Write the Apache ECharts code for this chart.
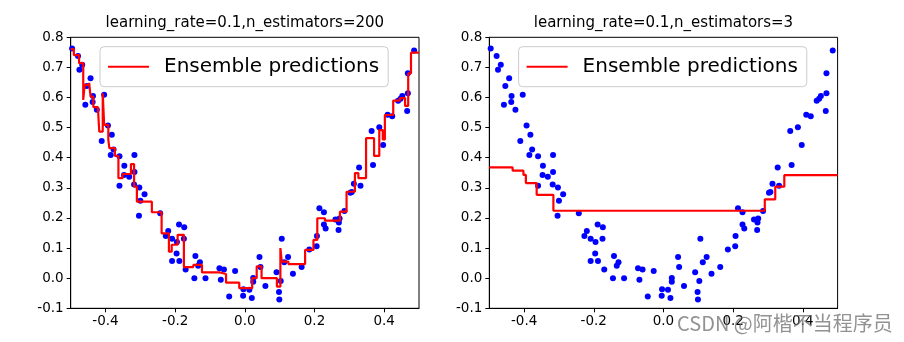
<!DOCTYPE html>
<html>
<head>
<meta charset="utf-8">
<script src="https://cdn.jsdelivr.net/npm/echarts@6/dist/echarts.min.js"></script>
<style>
html,body{margin:0;padding:0;background:#fff;}
#c{width:904px;height:342px;}
</style>
</head>
<body>
<div id="c"></div>
<script>
// ---- data ----
const titles = ['learning_rate=0.1,n_estimators=200', 'learning_rate=0.1,n_estimators=3'];
const legendName = 'Ensemble predictions';
const xTicks = [-0.4, -0.2, 0.0, 0.2, 0.4];

const xData = [-0.496,-0.479,-0.467,-0.475,-0.443,-0.454,-0.436,-0.404,-0.437,-0.458,
  -0.425,-0.393,-0.382,-0.411,-0.377,-0.385,-0.360,-0.317,-0.346,-0.317,
  -0.347,-0.332,-0.360,-0.318,-0.303,-0.288,-0.300,-0.304,-0.243,-0.220,
  -0.227,-0.189,-0.174,-0.209,-0.195,-0.175,-0.196,-0.209,-0.188,-0.170,
  -0.142,-0.129,-0.134,-0.145,-0.113,-0.073,-0.060,-0.069,-0.028,-0.045,
  -0.004,-0.005,0.013,0.020,0.024,0.024,0.042,0.045,0.059,0.091,
  0.103,0.098,0.099,0.106,0.113,0.124,0.138,0.163,0.185,0.206,
  0.207,0.214,0.227,0.227,0.232,0.260,0.272,0.270,0.269,0.286,
  0.303,0.307,0.313,0.332,0.328,0.368,0.364,0.386,0.397,0.410,
  0.423,0.440,0.447,0.452,0.468,0.466,0.468,0.486];
const yData = [0.763,0.738,0.709,0.692,0.664,0.638,0.605,0.609,0.585,0.576,
  0.559,0.507,0.476,0.456,0.427,0.409,0.405,0.409,0.373,0.353,
  0.343,0.337,0.307,0.311,0.301,0.279,0.257,0.207,0.216,0.157,
  0.140,0.178,0.169,0.131,0.120,0.131,0.082,0.057,0.057,0.029,
  0.074,0.053,0.041,0.000,0.000,0.033,0.029,-0.005,0.024,-0.061,
  -0.037,-0.058,-0.038,-0.066,0.001,-0.012,0.070,0.037,-0.026,0.020,
  -0.009,-0.046,-0.071,0.131,0.053,0.070,0.015,0.037,0.095,0.106,
  0.140,0.232,0.219,0.178,0.165,0.195,0.198,0.185,0.160,0.223,
  0.284,0.286,0.314,0.307,0.368,0.376,0.489,0.501,0.442,0.543,
  0.538,0.589,0.596,0.605,0.614,0.555,0.681,0.756];

// step functions: segment start x and value (held until next start; last held to xEnd)
const xEnd = 0.5;
const leftStepX = [-0.500,-0.491,-0.476,-0.464,-0.460,-0.447,-0.443,-0.435,-0.422,-0.418,
  -0.408,-0.404,-0.392,-0.389,-0.373,-0.363,-0.351,-0.327,-0.318,-0.310,
  -0.267,-0.239,-0.218,-0.210,-0.193,-0.175,-0.148,-0.123,-0.071,-0.054,
  -0.016,0.021,0.034,0.048,0.092,0.102,0.106,0.125,0.173,0.197,
  0.208,0.230,0.273,0.292,0.316,0.326,0.348,0.371,0.386,0.396,
  0.402,0.426,0.445,0.460,0.469,0.477];
const leftStepY = [0.761,0.741,0.714,0.592,0.642,0.649,0.603,0.568,0.562,0.487,
  0.614,0.509,0.459,0.432,0.406,0.332,0.346,0.379,0.304,0.254,
  0.219,0.149,0.088,0.111,0.144,0.037,0.044,0.019,0.014,-0.015,
  -0.033,0.000,0.039,0.000,-0.028,0.100,0.055,0.047,0.094,0.127,
  0.199,0.191,0.221,0.287,0.349,0.332,0.465,0.406,0.492,0.461,
  0.542,0.590,0.598,0.572,0.680,0.749];
const rightStepX = [-0.500,-0.433,-0.402,-0.395,-0.364,-0.316,0.291,0.321,0.347];
const rightStepY = [0.368,0.357,0.343,0.316,0.277,0.224,0.262,0.304,0.342];

// ---- build chart ----
const FONT = 'DejaVu Sans';
const points = xData.map((x, i) => [x, yData[i]]);
function stepData(xs, ys) {
  const d = xs.map((x, i) => [x, ys[i]]);
  d.push([xEnd, ys[ys.length - 1]]);
  return d;
}

const gridW = 348.3, gridH = 271, gridTop = 37.3;
const gridLefts = [70.7, 489.3];

function xAxis(i) {
  return {
    type: 'value', gridIndex: i, min: -0.5, max: 0.5,
    axisLine: { show: true, onZero: false, lineStyle: { color: '#000', width: 1 } },
    axisTick: { show: true, length: 4, customValues: xTicks, lineStyle: { color: '#000', width: 1 } },
    axisLabel: { customValues: xTicks, formatter: v => v.toFixed(1), fontSize: 13.5, color: '#000', fontFamily: FONT, margin: 6 },
    splitLine: { show: false }
  };
}
function yAxis(i) {
  return {
    type: 'value', gridIndex: i, min: -0.1, max: 0.8, interval: 0.1,
    axisLine: { show: true, onZero: false, lineStyle: { color: '#000', width: 1 } },
    axisTick: { show: true, length: 4, lineStyle: { color: '#000', width: 1 } },
    axisLabel: { formatter: v => v.toFixed(1), fontSize: 13.5, color: '#000', fontFamily: FONT, margin: 7 },
    splitLine: { show: false }
  };
}
function legend(i) {
  return {
    data: [legendName], left: gridLefts[i] + 29.3, top: 46.7, orient: 'horizontal',
    selectedMode: false, icon: 'rect', itemWidth: 41, itemHeight: 2,
    padding: [10, 9, 10, 8],
    itemStyle: { color: '#ff0000' },
    textStyle: { fontSize: 20, color: '#000', fontFamily: FONT, padding: [0, 0, 0, 10] },
    borderColor: '#cccccc', borderWidth: 1, borderRadius: 4,
    backgroundColor: 'rgba(255,255,255,0.8)'
  };
}

const chart = echarts.init(document.getElementById('c'), null, { renderer: 'canvas' });
chart.setOption({
  animation: false,
  backgroundColor: '#fff',
  title: titles.map((t, i) => ({
    text: t, left: gridLefts[i] + gridW / 2, top: 16, textAlign: 'center', padding: 0,
    textStyle: { fontSize: 15, fontWeight: 'normal', color: '#000', fontFamily: FONT }
  })),
  legend: [legend(0), legend(1)],
  grid: gridLefts.map(l => ({ left: l, top: gridTop, width: gridW, height: gridH, show: true, borderColor: '#000', borderWidth: 1, backgroundColor: 'transparent' })),
  xAxis: [xAxis(0), xAxis(1)],
  yAxis: [yAxis(0), yAxis(1)],
  series: [
    { type: 'scatter', xAxisIndex: 0, yAxisIndex: 0, data: points, symbolSize: 6, itemStyle: { color: '#0000ff', opacity: 1 }, z: 2, clip: true },
    { name: legendName, type: 'line', xAxisIndex: 0, yAxisIndex: 0, step: 'end', data: stepData(leftStepX, leftStepY), showSymbol: false, symbol: 'none', lineStyle: { color: '#ff0000', width: 2.2, opacity: 1 }, itemStyle: { color: '#ff0000' }, z: 3, clip: true },
    { type: 'scatter', xAxisIndex: 1, yAxisIndex: 1, data: points, symbolSize: 6, itemStyle: { color: '#0000ff', opacity: 1 }, z: 2, clip: true },
    { name: legendName, type: 'line', xAxisIndex: 1, yAxisIndex: 1, step: 'end', data: stepData(rightStepX, rightStepY), showSymbol: false, symbol: 'none', lineStyle: { color: '#ff0000', width: 2.2, opacity: 1 }, itemStyle: { color: '#ff0000' }, z: 3, clip: true }
  ],
  graphic: [{
    type: 'text', left: 677, top: 313, z: 100,
    style: { text: 'CSDN @阿楷不当程序员', fontSize: 20, fontFamily: 'Noto Sans CJK SC', fill: 'rgba(110,110,110,0.75)' }
  }]
});
</script>
</body>
</html>
